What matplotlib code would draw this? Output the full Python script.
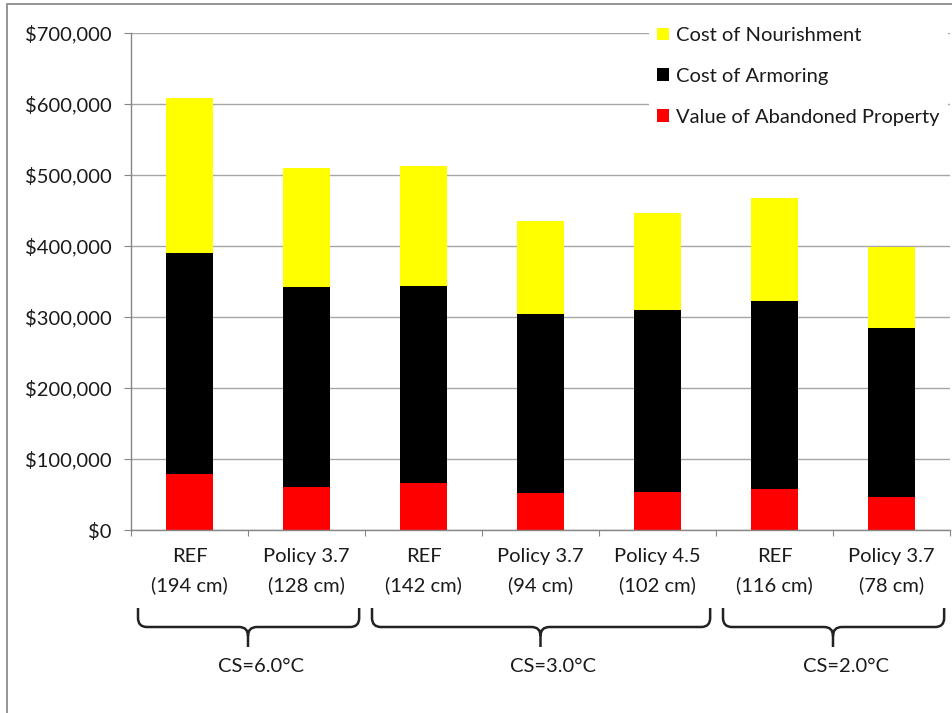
import matplotlib
matplotlib.use('Agg')
import matplotlib.pyplot as plt
from matplotlib.patches import Patch, Rectangle, PathPatch
from matplotlib.path import Path
from matplotlib.transforms import blended_transform_factory
from matplotlib.ticker import FuncFormatter

# ---- data ----
categories = ["REF\n(194 cm)", "Policy 3.7\n(128 cm)", "REF\n(142 cm)",
              "Policy 3.7\n(94 cm)", "Policy 4.5\n(102 cm)", "REF\n(116 cm)",
              "Policy 3.7\n(78 cm)"]
abandoned = [79000, 61000, 66000, 51500, 53000, 58000, 47000]
armoring = [311500, 281000, 278000, 252500, 257000, 264000, 238000]
nourishment = [217500, 168000, 168000, 131000, 137000, 145000, 114000]
series_names = ["Cost of Nourishment", "Cost of Armoring", "Value of Abandoned Property"]
groups = ["CS=6.0°C", "CS=3.0°C", "CS=2.0°C"]
group_spans = [(0, 1), (2, 4), (5, 6)]
yticks = [0, 100000, 200000, 300000, 400000, 500000, 600000, 700000]

plt.rcParams['font.family'] = ['Lato', 'DejaVu Sans']
TXT = '#1a1a1a'
GRID = '#a6a6a6'
AX = '#868686'
FS = 14.5

W, H = 952, 713
fig = plt.figure(figsize=(W / 100, H / 100), dpi=100)
ax = fig.add_axes([131 / W, 1 - 530 / H, (950 - 131) / W, (530 - 33) / H])

x = list(range(len(categories)))
bw = 0.4
ax.bar(x, abandoned, bw, color='#FF0000', zorder=2)
bot2 = abandoned
ax.bar(x, armoring, bw, bottom=bot2, color='#000000', zorder=2)
bot3 = [a + b for a, b in zip(abandoned, armoring)]
ax.bar(x, nourishment, bw, bottom=bot3, color='#FFFF00', zorder=2)

ax.set_xlim(-0.5, len(categories) - 0.5)
ax.set_ylim(0, 700000)
ax.set_yticks(yticks)
ax.yaxis.set_major_formatter(FuncFormatter(lambda v, p: "${:,.0f}".format(v)))
ax.yaxis.grid(True, color=GRID, lw=1)
ax.set_axisbelow(True)

for s in ['top', 'right']:
    ax.spines[s].set_visible(False)
for s in ['left', 'bottom']:
    ax.spines[s].set_color(AX)
    ax.spines[s].set_linewidth(1)

ax.tick_params(axis='y', length=5, color=AX, pad=9, labelsize=FS, labelcolor=TXT)
ax.set_xticks([i - 0.5 for i in range(len(categories) + 1)])
ax.set_xticklabels([])
ax.tick_params(axis='x', which='major', length=4.5, color=AX)
ax.set_xticks(x, minor=True)
ax.set_xticklabels(categories, minor=True)
ax.tick_params(axis='x', which='minor', length=0, pad=13, labelsize=FS, labelcolor=TXT)
for t in ax.get_xticklabels(minor=True):
    t.set_linespacing(1.75)

# legend
handles = [Patch(facecolor='#FFFF00', label=series_names[0]),
           Patch(facecolor='#000000', label=series_names[1]),
           Patch(facecolor='#FF0000', label=series_names[2])]
leg = ax.legend(handles=handles, loc='upper left',
                bbox_to_anchor=(649 / W, 1 - 19 / H), bbox_transform=fig.transFigure,
                frameon=True, facecolor='white', edgecolor='none', framealpha=1,
                fancybox=False, handlelength=0.6, handleheight=0.6,
                handletextpad=0.35, labelspacing=1.18, borderaxespad=0,
                borderpad=0.4, fontsize=FS)
for t in leg.get_texts():
    t.set_color(TXT)

# braces
tr = blended_transform_factory(ax.transData, fig.transFigure)
yT = 1 - 608 / H
yM = 1 - 627 / H
yB = 1 - 647 / H
rx = 9 / 117
ry = 9 / H
for (a, b), name in zip(group_spans, groups):
    L = a - 0.44
    R = b + 0.45
    C = (a + b) / 2
    verts = [(L, yT), (L, yM + ry), (L, yM), (L + rx, yM), (C - rx, yM),
             (C, yM), (C, yM - ry), (C, yB),
             (C, yM - ry), (C, yM), (C + rx, yM), (R - rx, yM),
             (R, yM), (R, yM + ry), (R, yT)]
    codes = [Path.MOVETO, Path.LINETO, Path.CURVE3, Path.CURVE3, Path.LINETO,
             Path.CURVE3, Path.CURVE3, Path.LINETO,
             Path.MOVETO, Path.CURVE3, Path.CURVE3, Path.LINETO,
             Path.CURVE3, Path.CURVE3, Path.LINETO]
    pp = PathPatch(Path(verts, codes), fill=False, ec='#222222', lw=1.8,
                   transform=tr, clip_on=False)
    fig.add_artist(pp)
    ax.text(C + 0.11, 1 - 666 / H, name, transform=tr, ha='center', va='center',
            fontsize=FS, color=TXT, clip_on=False)

# outer frame
fig.add_artist(Rectangle((7 / W, -0.1), 1.2, (1 - 4 / H) + 0.1, transform=fig.transFigure,
                         fill=False, ec='#8c8c8c', lw=1.3))

fig.savefig('out.png', dpi=100)
